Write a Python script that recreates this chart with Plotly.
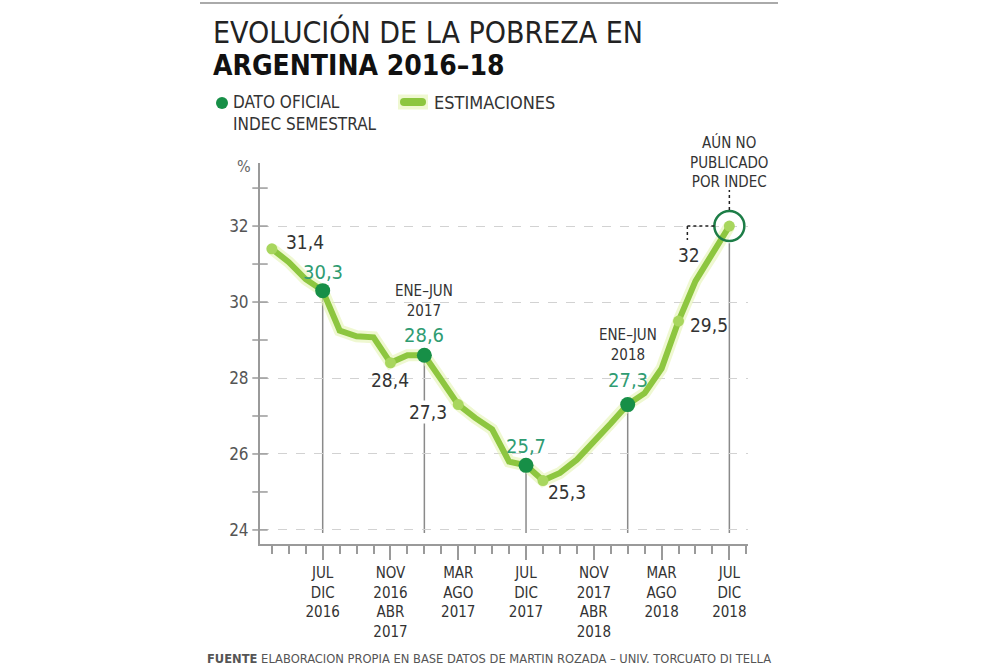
import plotly.graph_objects as go

# ---------------- data ----------------
months = list(range(28))  # rolling semesters, index 0 = ABR-SEP 2016
estimacion = [31.4, 31.05, 30.6, 30.3, 29.25, 29.1, 29.07, 28.4, 28.6, 28.6,
              27.95, 27.3, 26.95, 26.65, 25.8, 25.7, 25.3, 25.5, 25.85, 26.3,
              26.8, 27.3, 27.6, 28.25, 29.5, 30.55, 31.25, 32.0]
marked_idx = [0, 7, 11, 16, 24, 27]
oficial_idx = [3, 9, 15, 21]
oficial_val = [30.3, 28.6, 25.7, 27.3]
oficial_periodo = ["", "ENE–JUN<br>2017", "", "ENE–JUN<br>2018"]
no_publicado_idx = 27
no_publicado_val = 32.0
tick_idx = [3, 7, 11, 15, 19, 23, 27]
tick_text = ["JUL<br>DIC<br>2016", "NOV<br>2016<br>ABR<br>2017", "MAR<br>AGO<br>2017",
             "JUL<br>DIC<br>2017", "NOV<br>2017<br>ABR<br>2018", "MAR<br>AGO<br>2018",
             "JUL<br>DIC<br>2018"]
y_ticks = [24, 26, 28, 30, 32]
y_minor = [24, 25, 26, 27, 28, 29, 30, 31, 32, 33]

# ---------------- style ----------------
FONT = "Liberation Sans Narrow, Arial Narrow, DejaVu Sans Condensed, Roboto, sans-serif"
LINE_GREEN = "#8dc63f"
DOT_LIGHT = "#a8d65e"
DARK_GREEN = "#178f47"
TEAL = "#2f9c72"
GLOW = "rgba(228,243,178,0.6)"
GREY = "#9a9a9a"
TXT = "#333333"

X_RANGE = [-0.7, 28.1]
Y_RANGE = [23.63, 33.66]
L, R, T, B = 260, 748, 163, 544


def px(x):
    return (x - L) / (R - L)


def py(y):
    return (B - y) / (B - T)


def fmt(v):
    return str(int(v)) if float(v).is_integer() else f"{v:.1f}".replace(".", ",")


fig = go.Figure()

# crossing tick marks on the y axis
fig.add_trace(go.Scatter(x=[X_RANGE[0]] * len(y_minor), y=y_minor, mode="markers",
                         marker=dict(symbol="line-ew-open", size=11, color=GREY,
                                     line=dict(color=GREY, width=1.5)),
                         hoverinfo="skip", cliponaxis=False))
# glow + line
fig.add_trace(go.Scatter(x=months, y=estimacion, mode="lines",
                         line=dict(color=GLOW, width=12), hoverinfo="skip"))
fig.add_trace(go.Scatter(x=months, y=estimacion, mode="lines",
                         line=dict(color=LINE_GREEN, width=6), hoverinfo="skip"))
fig.add_trace(go.Scatter(x=[months[i] for i in marked_idx],
                         y=[estimacion[i] for i in marked_idx], mode="markers",
                         marker=dict(color=DOT_LIGHT, size=11), hoverinfo="skip",
                         cliponaxis=False))
fig.add_trace(go.Scatter(x=oficial_idx, y=oficial_val, mode="markers",
                         marker=dict(color=DARK_GREEN, size=15), hoverinfo="skip"))
fig.add_trace(go.Scatter(x=[no_publicado_idx], y=[no_publicado_val], mode="markers",
                         marker=dict(symbol="circle-open", size=30,
                                     line=dict(color="#1d7d47", width=2.5),
                                     color="#1d7d47"),
                         hoverinfo="skip", cliponaxis=False))

shapes = []
# drop lines from official points
for xi, yv in zip(oficial_idx, oficial_val):
    shapes.append(dict(type="line", xref="x", yref="y", x0=xi, x1=xi, y0=yv, y1=23.92,
                       line=dict(color="#8a8a8a", width=1.5), layer="below"))
shapes.append(dict(type="line", xref="x", yref="y", x0=no_publicado_idx, x1=no_publicado_idx,
                   y0=no_publicado_val - 0.45, y1=23.92,
                   line=dict(color="#8a8a8a", width=1.5), layer="below"))
# dotted guides round the unpublished point
for x0, x1, y0, y1 in [(-42, -15, 0, 0), (-42, -42, 0, -14), (0, 0, 16, 36)]:
    shapes.append(dict(type="line", xref="x", yref="y", xsizemode="pixel", ysizemode="pixel",
                       xanchor=no_publicado_idx, yanchor=no_publicado_val,
                       x0=x0, x1=x1, y0=y0, y1=y1,
                       line=dict(color="#222", width=1.5, dash="dot")))
# top rule
shapes.append(dict(type="line", xref="paper", yref="paper", x0=px(200), x1=px(778),
                   y0=py(3), y1=py(3), line=dict(color="#aaaaaa", width=2)))
# legend marks
shapes.append(dict(type="circle", xref="paper", yref="paper", x0=px(216), x1=px(228),
                   y0=py(109), y1=py(97), fillcolor=DARK_GREEN, line=dict(width=0)))
shapes.append(dict(type="line", xref="paper", yref="paper", x0=px(398), x1=px(428),
                   y0=py(102), y1=py(102), line=dict(color=GLOW, width=15)))
shapes.append(dict(type="line", xref="paper", yref="paper", x0=px(404), x1=px(422),
                   y0=py(102), y1=py(102), line=dict(color=LINE_GREEN, width=8)))
for cx in (404, 422):
    shapes.append(dict(type="circle", xref="paper", yref="paper", x0=px(cx - 4), x1=px(cx + 4),
                       y0=py(106), y1=py(98), fillcolor=LINE_GREEN, line=dict(width=0)))

ann = []
# estimation labels
est_offsets = {0: (33, 7), 7: (0, -17), 11: (-30, -7), 16: (24, -11), 24: (30, -4)}
for i, (dx, dy) in est_offsets.items():
    ann.append(dict(x=months[i], y=estimacion[i], xref="x", yref="y", text=fmt(estimacion[i]),
                    showarrow=False, xshift=dx, yshift=dy,
                    font=dict(family=FONT, size=19, color=TXT),
                    bgcolor="white" if i == 11 else None, borderpad=0))
# official labels
off_shift = [19, 20, 19, 25]
per_shift = [0, 54, 0, 60]
for xi, yv, per, s, ps in zip(oficial_idx, oficial_val, oficial_periodo, off_shift, per_shift):
    ann.append(dict(x=xi, y=yv, xref="x", yref="y", text=fmt(yv), showarrow=False,
                    yshift=s, font=dict(family=FONT, size=20, color=TEAL)))
    if per:
        ann.append(dict(x=xi, y=yv, xref="x", yref="y", text=per, showarrow=False,
                        yshift=ps, font=dict(family=FONT, size=15, color=TXT)))
# unpublished
ann.append(dict(x=no_publicado_idx, y=no_publicado_val, xref="x", yref="y",
                text=fmt(no_publicado_val), showarrow=False, xshift=-40, yshift=-29,
                font=dict(family=FONT, size=19, color=TXT)))
ann.append(dict(x=no_publicado_idx, y=no_publicado_val, xref="x", yref="y",
                text="AÚN NO<br>PUBLICADO<br>POR INDEC", showarrow=False, yshift=64,
                font=dict(family=FONT, size=15, color=TXT)))


def paper_text(x, y, text, size, color=TXT, xanchor="left", align="left"):
    return dict(x=px(x), y=py(y), xref="paper", yref="paper", xanchor=xanchor,
                yanchor="middle", text=text, showarrow=False, align=align,
                font=dict(family=FONT, size=size, color=color))


ann.append(paper_text(244, 166, "%", 16, "#666", xanchor="center"))
ann.append(paper_text(211, 32, "EVOLUCIÓN DE LA POBREZA EN", 30, "#222"))
ann.append(paper_text(211, 65, "<b>ARGENTINA 2016–18</b>", 28, "#111"))
ann.append(paper_text(231, 113, "DATO OFICIAL<br>INDEC SEMESTRAL", 17))
ann.append(paper_text(432, 102, "ESTIMACIONES", 18))
ann.append(paper_text(205, 658, "<b>FUENTE</b> ELABORACION PROPIA EN BASE DATOS DE MARTIN "
                                "ROZADA – UNIV. TORCUATO DI TELLA", 12.8, "#555"))

fig.update_layout(
    width=1000, height=667,
    margin=dict(l=L, r=1000 - R, t=T, b=667 - B, pad=0),
    paper_bgcolor="white", plot_bgcolor="white",
    showlegend=False,
    shapes=shapes, annotations=ann,
    font=dict(family=FONT, color=TXT),
    xaxis=dict(range=X_RANGE, showgrid=False, zeroline=False,
               showline=True, linecolor=GREY, linewidth=2,
               tickvals=tick_idx, ticktext=tick_text,
               ticks="outside", ticklen=14, tickwidth=1.5, tickcolor=GREY,
               tickfont=dict(family=FONT, size=15, color=TXT),
               minor=dict(tick0=0, dtick=1, ticks="outside", ticklen=8,
                          tickwidth=1.5, tickcolor=GREY, showgrid=False)),
    yaxis=dict(range=Y_RANGE, zeroline=False,
               showline=True, linecolor=GREY, linewidth=2,
               tickvals=y_ticks, ticks="", ticklabelstandoff=6,
               tickfont=dict(family=FONT, size=17, color="#555"),
               showgrid=True, gridcolor="#d2d2d2", gridwidth=1, griddash="dash"),
)

fig.write_html("out.html")
